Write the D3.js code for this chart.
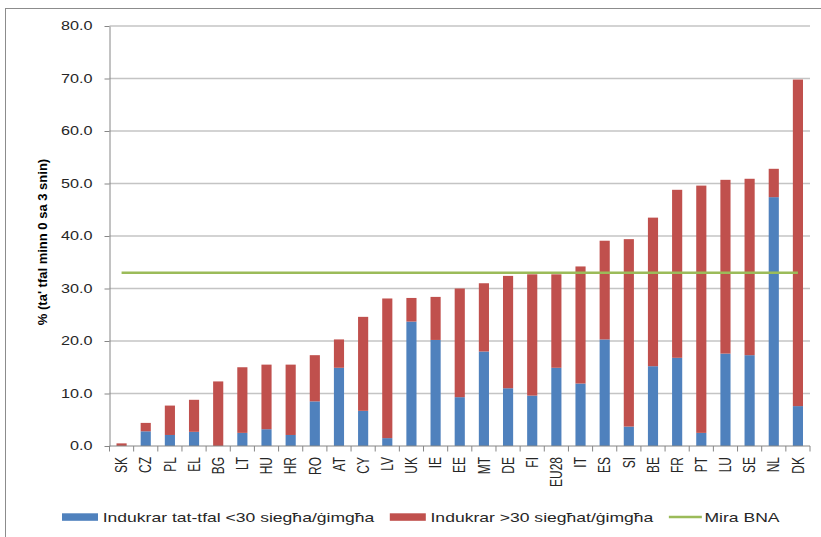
<!DOCTYPE html>
<html>
<head>
<meta charset="utf-8">
<script src="https://cdn.jsdelivr.net/npm/d3@7"></script>
<style>
  html, body { margin: 0; padding: 0; background: #ffffff; }
  svg { display: block; font-family: "Liberation Sans", Arial, sans-serif; }
</style>
</head>
<body>
<svg id="chart" width="821" height="537"></svg>
<script>
// ---- data ----
const categories = ["SK","CZ","PL","EL","BG","LT","HU","HR","RO","AT","CY","LV","UK","IE","EE","MT","DE","FI","EU28","IT","ES","SI","BE","FR","PT","LU","SE","NL","DK"];
const below30 = [0.0, 2.8, 2.1, 2.7, 0.0, 2.5, 3.2, 2.1, 8.5, 14.9, 6.7, 1.5, 23.7, 20.2, 9.3, 18.0, 11.0, 9.6, 14.9, 11.9, 20.3, 3.7, 15.2, 16.8, 2.5, 17.6, 17.3, 47.4, 7.6];
const above30 = [0.5, 1.6, 5.6, 6.1, 12.3, 12.5, 12.3, 13.4, 8.8, 5.4, 17.9, 26.6, 4.5, 8.2, 20.7, 13.0, 21.4, 23.1, 17.8, 22.3, 18.8, 35.7, 28.3, 32.0, 47.1, 33.1, 33.6, 5.4, 62.2];
const targetBNA = 33;
const yTicks = [0, 10, 20, 30, 40, 50, 60, 70, 80];
const yTitle = "% (ta' tfal minn 0 sa 3 snin)";
const seriesNames = ["Indukrar tat-tfal <30 siegħa/ġimgħa", "Indukrar >30 siegħat/ġimgħa", "Mira BNA"];
const colors = ["#4F81BD", "#C0504D", "#9BBB59"];

// ---- layout ----
const svg = d3.select("#chart");
const plot = { left: 109.5, right: 810, top: 26, bottom: 446 };
const stretch = 1.35;
const textColor = "#262626";
const axisColor = "#868686";

// outer border
svg.append("rect")
  .attr("x", 5.5).attr("y", 8.5).attr("width", 840).attr("height", 560)
  .attr("fill", "none").attr("stroke", "#8c8c8c").attr("stroke-width", 1);

const y = d3.scaleLinear().domain([0, 80]).range([plot.bottom, plot.top]);
const x = d3.scaleBand().domain(categories).range([plot.left, plot.right])
  .paddingInner(0.58).paddingOuter(0.29);
const xb = d3.scaleBand().domain(categories).range([plot.left, plot.right]);

// gridlines
svg.append("g").selectAll("line")
  .data(yTicks.filter(d => d > 0))
  .join("line")
  .attr("x1", plot.left).attr("x2", plot.right)
  .attr("y1", d => y(d)).attr("y2", d => y(d))
  .attr("stroke", "#c4c4c4").attr("stroke-width", 1.3);

// stacked bars
const rows = categories.map((c, i) => ({ cat: c, below: below30[i], above: above30[i] }));
const stacked = d3.stack().keys(["below", "above"])(rows);
svg.append("g").selectAll("g")
  .data(stacked)
  .join("g")
  .attr("fill", (d, i) => colors[i])
  .selectAll("rect")
  .data(d => d)
  .join("rect")
  .attr("x", d => x(d.data.cat))
  .attr("width", x.bandwidth())
  .attr("y", d => y(d[1]))
  .attr("height", d => Math.max(0, y(d[0]) - y(d[1])));

// y axis
const yAxis = svg.append("g")
  .attr("transform", `translate(${plot.left},0)`)
  .call(d3.axisLeft(y).tickValues(yTicks).tickFormat(d3.format(".1f")).tickSize(5).tickSizeOuter(0).tickPadding(12));
yAxis.select(".domain").attr("stroke", axisColor);
yAxis.selectAll(".tick line").attr("stroke", axisColor);
yAxis.selectAll(".tick text")
  .attr("x", null)
  .attr("transform", `translate(-17,0) scale(${stretch},1)`)
  .attr("fill", textColor)
  .style("font-size", "12px")
  .style("font-family", "'Liberation Sans', Arial, sans-serif");

// x axis line
svg.append("line")
  .attr("x1", plot.left).attr("x2", plot.right)
  .attr("y1", plot.bottom).attr("y2", plot.bottom)
  .attr("stroke", axisColor);
// x ticks at category boundaries
const boundaries = categories.map(c => xb(c)).concat([plot.right]);
svg.append("g").selectAll("line")
  .data(boundaries)
  .join("line")
  .attr("x1", d => d).attr("x2", d => d)
  .attr("y1", plot.bottom).attr("y2", plot.bottom + 5.5)
  .attr("stroke", axisColor);
// x labels
svg.append("g").selectAll("text")
  .data(categories)
  .join("text")
  .attr("transform", d => `translate(${x(d) + x.bandwidth() / 2},457) scale(${stretch},1) rotate(-90)`)
  .attr("text-anchor", "end")
  .attr("dy", "0.35em")
  .attr("fill", textColor)
  .style("font-size", "12px")
  .text(d => d);

// target line
const line = d3.line()
  .x(d => x(d) + x.bandwidth() / 2)
  .y(() => y(targetBNA));
svg.append("path")
  .datum(categories)
  .attr("d", line)
  .attr("fill", "none")
  .attr("stroke", colors[2])
  .attr("stroke-width", 2.6);

// y title
svg.append("text")
  .attr("transform", "translate(42.5,242) rotate(-90)")
  .attr("text-anchor", "middle")
  .attr("dy", "0.35em")
  .attr("fill", "#000")
  .style("font-size", "13px")
  .style("font-weight", "bold")
  .text(yTitle);

// legend
const lg = svg.append("g");
let cur = 62;
seriesNames.forEach((name, i) => {
  let tx;
  if (i < 2) {
    lg.append("rect").attr("x", cur).attr("y", 513.3).attr("width", 36).attr("height", 7.5).attr("fill", colors[i]);
    tx = cur + 36 + 4.7;
  } else {
    lg.append("line").attr("x1", cur).attr("x2", cur + 33).attr("y1", 517).attr("y2", 517)
      .attr("stroke", colors[i]).attr("stroke-width", 2.6);
    tx = cur + 33 + 2.6;
  }
  const t = lg.append("text")
    .attr("transform", `translate(${tx},521.5) scale(${stretch},1)`)
    .attr("fill", textColor)
    .style("font-size", "13px")
    .text(name);
  const w = t.node().getComputedTextLength() * stretch;
  cur = tx + w + 15.5;
});
</script>
</body>
</html>
